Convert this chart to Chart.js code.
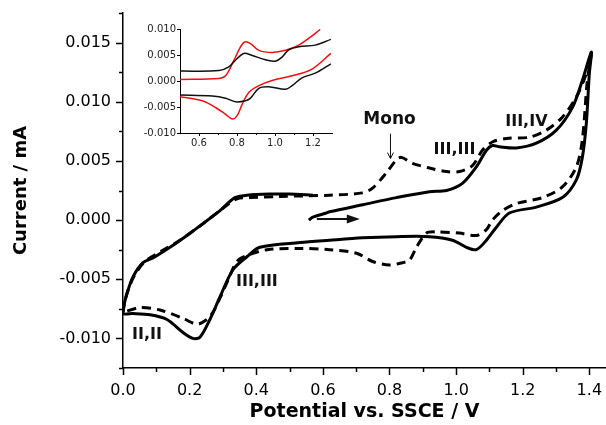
<!DOCTYPE html>
<html>
<head>
<meta charset="utf-8">
<script src="https://cdn.jsdelivr.net/npm/chart.js@4.4.0/dist/chart.umd.min.js"></script>
<style>
html, body { margin: 0; padding: 0; background: #fff; }
#wrap { position: relative; width: 606px; height: 425px; }
#main { position: absolute; left: 0; top: 0; }
#inset { position: absolute; left: 130px; top: 20px; }
</style>
</head>
<body>
<div id="wrap">
<canvas id="main" width="606" height="425"></canvas>
<canvas id="inset" width="210" height="135"></canvas>
</div>
<script>
// main CV, solid trace: starts near 0.56 V, forward to 1.41 V, back to 0 V, forward again
var solidV = [0.558, 0.570, 0.611, 0.620, 0.720, 0.821, 0.920, 0.971, 1.019, 1.061, 1.091, 1.109, 1.130, 1.181, 1.241, 1.301, 1.349, 1.379, 1.406,
              1.400, 1.391, 1.379, 1.361, 1.319, 1.241, 1.160, 1.121, 1.091, 1.061, 1.031, 0.989, 0.920, 0.821, 0.719, 0.620, 0.531, 0.411, 0.372, 0.330, 0.291, 0.261, 0.231, 0.210, 0.180, 0.132, 0.081, 0.030, 0.000,
              0.003, 0.012, 0.030, 0.060, 0.090, 0.141, 0.192, 0.240, 0.291, 0.336, 0.372, 0.441, 0.500, 0.570];
var solidI = [0.0000, 0.00025, 0.0006, 0.0007, 0.0013, 0.0019, 0.0024, 0.0025, 0.0031, 0.0045, 0.0059, 0.0063, 0.0062, 0.0061, 0.0065, 0.0076, 0.0095, 0.0118, 0.0142,
              0.0124, 0.0082, 0.0053, 0.0034, 0.0019, 0.0011, 0.0006, -0.0006, -0.0017, -0.0025, -0.0023, -0.0017, -0.0014, -0.0014, -0.0015, -0.0017, -0.0019, -0.0023, -0.0031, -0.0042, -0.0065, -0.0084, -0.0099, -0.0100, -0.0095, -0.0084, -0.0080, -0.0079, -0.0079,
              -0.0072, -0.0062, -0.0048, -0.0036, -0.0032, -0.0023, -0.0013, -0.0003, 0.0008, 0.0019, 0.0021, 0.0022, 0.0022, 0.0021];

// main CV, dashed trace (with the "Mono" wave)
var dashV = [0.000, 0.006, 0.018, 0.036, 0.066, 0.111, 0.171, 0.231, 0.291, 0.342, 0.381, 0.471, 0.620, 0.719, 0.749, 0.791, 0.821, 0.836, 0.869, 0.920, 0.971, 1.010, 1.049, 1.079, 1.109, 1.151, 1.220, 1.271, 1.319, 1.361, 1.391, 1.406,
             1.394, 1.379, 1.361, 1.319, 1.259, 1.181, 1.139, 1.109, 1.091, 1.061, 1.010, 0.941, 0.911, 0.881, 0.860, 0.839, 0.800, 0.749, 0.701, 0.620, 0.531, 0.432, 0.372, 0.342, 0.315, 0.291, 0.270, 0.252, 0.222, 0.180, 0.111, 0.051, 0.000];
var dashI = [-0.0078, -0.0068, -0.0057, -0.0046, -0.0035, -0.0027, -0.0017, -0.0005, 0.0008, 0.0018, 0.0019, 0.0020, 0.0021, 0.0023, 0.0027, 0.0040, 0.0051, 0.0053, 0.0048, 0.0044, 0.0041, 0.0041, 0.0046, 0.0059, 0.0066, 0.0069, 0.0070, 0.0076, 0.0087, 0.0104, 0.0124, 0.0141,
             0.0118, 0.0068, 0.0045, 0.0028, 0.0019, 0.0014, 0.0008, 0.0000, -0.0008, -0.0013, -0.0011, -0.0010, -0.0011, -0.0023, -0.0034, -0.0036, -0.0038, -0.0035, -0.0028, -0.0025, -0.0024, -0.0025, -0.0030, -0.0035, -0.0051, -0.0066, -0.0078, -0.0084, -0.0088, -0.0083, -0.0076, -0.0074, -0.0078];

// inset traces
var blackUpV = [0.495, 0.705, 0.757, 0.792, 0.836, 0.880, 0.950, 1.002, 1.037, 1.072, 1.125, 1.212, 1.294];
var blackUpI = [0.0019, 0.0020, 0.0027, 0.0040, 0.0053, 0.0049, 0.0041, 0.0038, 0.0046, 0.0060, 0.0066, 0.0069, 0.0080];
var blackDnV = [0.495, 0.670, 0.740, 0.792, 0.845, 0.871, 0.915, 0.967, 1.055, 1.090, 1.142, 1.212, 1.294];
var blackDnI = [-0.0027, -0.0029, -0.0033, -0.0040, -0.0038, -0.0033, -0.0014, -0.0011, -0.0016, -0.0009, 0.0006, 0.0015, 0.0033];
var redUpV = [0.495, 0.705, 0.740, 0.784, 0.819, 0.841, 0.871, 0.915, 0.985, 1.055, 1.125, 1.177, 1.238];
var redUpI = [0.0003, 0.0005, 0.0010, 0.0040, 0.0066, 0.0075, 0.0072, 0.0059, 0.0055, 0.0059, 0.0069, 0.0082, 0.0099];
var redDnV = [0.495, 0.617, 0.687, 0.740, 0.775, 0.800, 0.827, 0.862, 0.915, 0.985, 1.090, 1.195, 1.294];
var redDnI = [-0.0030, -0.0038, -0.0051, -0.0064, -0.0073, -0.0067, -0.0045, -0.0022, -0.0009, 0.0001, 0.0010, 0.0023, 0.0053];

// tick values
var xTicks = [0.0, 0.2, 0.4, 0.6, 0.8, 1.0, 1.2, 1.4];
var xMinor = [0.1, 0.3, 0.5, 0.7, 0.9, 1.1, 1.3];
var yTicks = [-0.010, -0.005, 0.000, 0.005, 0.010, 0.015];
var yMinor = [-0.0125, -0.0075, -0.0025, 0.0025, 0.0075, 0.0125, 0.0175];
var insetXTicks = [0.6, 0.8, 1.0, 1.2];
var insetXMinor = [0.7, 0.9, 1.1];
var insetYTicks = [-0.010, -0.005, 0.000, 0.005, 0.010];

var FONT = '"DejaVu Sans", Arial, sans-serif';

function zip(xs, ys) {
    return xs.map(function (x, i) { return { x: x, y: ys[i] }; });
}

function setTicks(values) {
    return function (scale) {
        scale.ticks = values.map(function (v) { return { value: v }; });
    };
}

// fixed axis size, and no extra room for edge labels
function fixHeight(h) {
    return function (s) { s.height = h; s.paddingLeft = 0; s.paddingRight = 0; };
}
function fixWidth(w) {
    return function (s) { s.width = w; s.paddingTop = 0; s.paddingBottom = 0; };
}

// draws outward tick marks, long for major, short for minor
var tickMarks = {
    id: 'tickMarks',
    afterDraw: function (chart, args, o) {
        var ctx = chart.ctx, a = chart.chartArea,
            xs = chart.scales.x, ys = chart.scales.y;
        ctx.save();
        ctx.strokeStyle = '#000';
        ctx.lineWidth = o.width;
        ctx.beginPath();
        function vx(list, len) {
            list.forEach(function (v) {
                var p = Math.round(xs.getPixelForValue(v)) + 0.5;
                ctx.moveTo(p, a.bottom);
                ctx.lineTo(p, a.bottom + len);
            });
        }
        function vy(list, len) {
            list.forEach(function (v) {
                var p = Math.round(ys.getPixelForValue(v)) + 0.5;
                ctx.moveTo(a.left, p);
                ctx.lineTo(a.left - len, p);
            });
        }
        vx(o.xMajor, o.major); vx(o.xMinor, o.minor);
        vy(o.yMajor, o.major); vy(o.yMinor, o.minor);
        ctx.stroke();
        ctx.restore();
    }
};

// text labels and arrows placed in data coordinates
var notes = [
    { text: 'Mono', v: 0.800, i: 0.0085, size: 17 },
    { text: 'III,III', v: 0.995, i: 0.0059, size: 16 },
    { text: 'III,IV', v: 1.211, i: 0.0083, size: 16 },
    { text: 'III,III', v: 0.402, i: -0.0052, size: 16 },
    { text: 'II,II', v: 0.072, i: -0.0097, size: 16 }
];

var annotations = {
    id: 'annotations',
    afterDatasetsDraw: function (chart) {
        var ctx = chart.ctx, xs = chart.scales.x, ys = chart.scales.y;
        ctx.save();
        ctx.fillStyle = '#111';
        ctx.strokeStyle = '#111';
        ctx.textAlign = 'center';
        ctx.textBaseline = 'middle';
        notes.forEach(function (n) {
            ctx.font = 'bold ' + n.size + 'px ' + FONT;
            ctx.fillText(n.text, xs.getPixelForValue(n.v), ys.getPixelForValue(n.i));
        });

        // thin arrow pointing at the Mono wave
        var ax = xs.getPixelForValue(0.803),
            ay0 = ys.getPixelForValue(0.0073),
            ay1 = ys.getPixelForValue(0.0052);
        ctx.lineWidth = 1;
        ctx.beginPath();
        ctx.moveTo(ax, ay0);
        ctx.lineTo(ax, ay1);
        ctx.moveTo(ax - 3, ay1 - 6);
        ctx.lineTo(ax, ay1);
        ctx.lineTo(ax + 3, ay1 - 6);
        ctx.stroke();

        // scan direction arrow
        var sx0 = xs.getPixelForValue(0.582),
            sx1 = xs.getPixelForValue(0.711),
            sy = ys.getPixelForValue(0.0001);
        ctx.lineWidth = 2;
        ctx.beginPath();
        ctx.moveTo(sx0, sy);
        ctx.lineTo(sx1 - 10, sy);
        ctx.stroke();
        ctx.beginPath();
        ctx.moveTo(sx1, sy);
        ctx.lineTo(sx1 - 13, sy - 4.5);
        ctx.lineTo(sx1 - 13, sy + 4.5);
        ctx.closePath();
        ctx.fill();
        ctx.restore();
    }
};

new Chart(document.getElementById('main'), {
    type: 'scatter',
    data: {
        datasets: [
            { data: zip(dashV, dashI), showLine: true, borderColor: '#000', borderWidth: 3, borderDash: [9, 6], pointRadius: 0, tension: 0.3 },
            { data: zip(solidV, solidI), showLine: true, borderColor: '#000', borderWidth: 3, pointRadius: 0, tension: 0.3 }
        ]
    },
    options: {
        responsive: false,
        animation: false,
        layout: { padding: { top: 13, right: 0, left: 0, bottom: 0 } },
        plugins: {
            legend: { display: false },
            tooltip: { enabled: false },
            tickMarks: { xMajor: xTicks, xMinor: xMinor, yMajor: yTicks, yMinor: yMinor, major: 7, minor: 4, width: 1.5 }
        },
        scales: {
            x: {
                type: 'linear', min: 0, max: 1.45,
                afterBuildTicks: setTicks(xTicks),
                afterFit: fixHeight(57),
                grid: { display: false, drawTicks: false },
                border: { display: true, color: '#000', width: 1.5 },
                ticks: { padding: 13, color: '#000', font: { family: FONT, size: 16 },
                         callback: function (v) { return v.toFixed(1); } },
                title: { display: true, text: 'Potential vs. SSCE / V', color: '#000',
                         font: { family: FONT, size: 19, weight: 'bold' }, padding: { top: 0, bottom: 2 } }
            },
            y: {
                type: 'linear', min: -0.0125, max: 0.0175,
                afterBuildTicks: setTicks(yTicks),
                afterFit: fixWidth(123),
                grid: { display: false, drawTicks: false },
                border: { display: true, color: '#000', width: 1.5 },
                ticks: { padding: 12, color: '#000', font: { family: FONT, size: 16 },
                         callback: function (v) { return v.toFixed(3); } },
                title: { display: true, text: 'Current / mA', color: '#000',
                         font: { family: FONT, size: 18, weight: 'bold' }, padding: { top: 11, bottom: 0 } }
            }
        }
    },
    plugins: [tickMarks, annotations]
});

var insetLine = { showLine: true, borderWidth: 1.5, pointRadius: 0, tension: 0.35 };

new Chart(document.getElementById('inset'), {
    type: 'scatter',
    data: {
        datasets: [
            Object.assign({ data: zip(blackUpV, blackUpI), borderColor: '#111' }, insetLine),
            Object.assign({ data: zip(blackDnV, blackDnI), borderColor: '#111' }, insetLine),
            Object.assign({ data: zip(redUpV, redUpI), borderColor: '#f01010' }, insetLine),
            Object.assign({ data: zip(redDnV, redDnI), borderColor: '#f01010' }, insetLine)
        ]
    },
    options: {
        responsive: false,
        animation: false,
        layout: { padding: { top: 9, right: 8, left: 0, bottom: 0 } },
        plugins: {
            legend: { display: false },
            tooltip: { enabled: false },
            tickMarks: { xMajor: insetXTicks, xMinor: insetXMinor, yMajor: insetYTicks, yMinor: [], major: 3, minor: 2, width: 1 }
        },
        scales: {
            x: {
                type: 'linear', min: 0.5, max: 1.3,
                afterBuildTicks: setTicks(insetXTicks),
                afterFit: fixHeight(22),
                grid: { display: false, drawTicks: false },
                border: { display: true, color: '#000', width: 1 },
                ticks: { padding: 4, color: '#222', font: { family: FONT, size: 10 },
                         callback: function (v) { return v.toFixed(1); } }
            },
            y: {
                type: 'linear', min: -0.010, max: 0.010,
                afterBuildTicks: setTicks(insetYTicks),
                afterFit: fixWidth(50),
                grid: { display: false, drawTicks: false },
                border: { display: true, color: '#000', width: 1 },
                ticks: { padding: 4, color: '#222', font: { family: FONT, size: 10 },
                         callback: function (v) { return v.toFixed(3); } }
            }
        }
    },
    plugins: [tickMarks]
});
</script>
</body>
</html>
